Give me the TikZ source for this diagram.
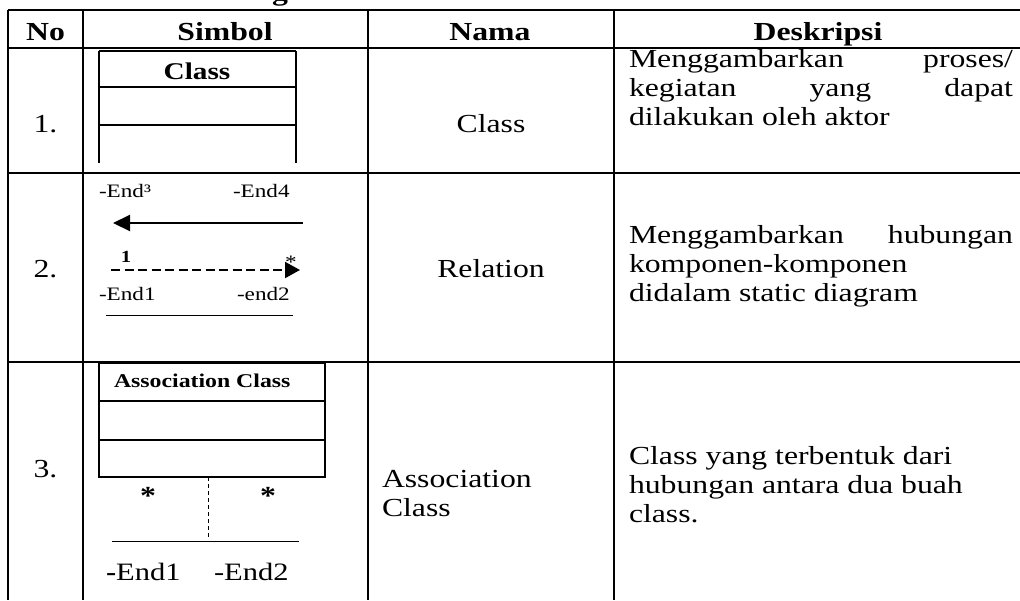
\documentclass[tikz,border=0pt]{standalone}
\usepackage{fontspec}
\setmainfont{Liberation Serif}[FakeStretch=1.22]
\usetikzlibrary{arrows.meta}

\begin{document}
\begin{tikzpicture}[x = 1pt, y = -1pt, line width = 2pt,
                      txt/.style = {inner sep = 0pt, anchor = base, font = \fontsize{26}{29}\selectfont},
                      hd/.style = {txt, font = \fontsize{26}{29}\selectfont\bfseries},
                      lft/.style = {txt, anchor = base west},
                      just/.style = {lft, text width = 384pt},
                      small/.style = {inner sep = 0pt, anchor = base west, font = \fontsize{19}{21}\selectfont},
                      thin/.style = {line width = 1pt}]
    \useasboundingbox (0, 0) rectangle (1020, 600);

    \draw (8, 10) -- (1020, 10);
    \draw (8, 48) -- (1020, 48);
    \draw (8, 173) -- (1020, 173);
    \draw (8, 362) -- (1020, 362);
    \foreach \x in {8, 83, 368, 614}
        \draw (\x, 10) -- (\x, 600);

    \node [hd] (t1) at (280, 0) {g};

    \node [hd] (h1) at (45.5, 40) {No};
    \node [hd] (h2) at (225, 40) {Simbol};
    \node [hd] (h3) at (490, 40) {Nama};
    \node [hd] (h4) at (818, 40) {Deskripsi};

    \node [txt] (n1) at (45.5, 132) {1.};
    \node [txt] (n2) at (45.5, 277) {2.};
    \node [txt] (n3) at (45.5, 477) {3.};

    \node [txt] (m1) at (491, 132) {Class};
    \node [txt] (m2) at (491, 277) {Relation};
    \node [lft] (m3) at (381, 487) {Association};
    \node [lft] (m4) at (381, 516) {Class};

    \node [just] (d1) at (628, 67) {Menggambarkan\hfill proses/};
    \node [just] (d2) at (628, 96) {kegiatan\hfill yang\hfill dapat};
    \node [lft] (d3) at (628, 125) {dilakukan oleh aktor};
    \node [just] (d4) at (628, 243) {Menggambarkan\hfill hubungan};
    \node [lft] (d5) at (628, 272) {komponen-komponen};
    \node [lft] (d6) at (628, 301) {didalam static diagram};
    \node [lft] (d7) at (628, 464) {Class yang terbentuk dari};
    \node [lft] (d8) at (628, 493) {hubungan antara dua buah};
    \node [lft] (d9) at (628, 522) {class.};

    \draw (99, 51) -- (296, 51);
    \draw (99, 87) -- (296, 87);
    \draw (99, 125) -- (296, 125);
    \draw (99, 51) -- (99, 163);
    \draw (296, 51) -- (296, 163);
    \node [hd, font = \fontsize{24}{28}\selectfont\bfseries] (c1) at (197, 79) {Class};

    \node [small] (e3) at (98, 197) {-End³};
    \node [small] (e4) at (232, 197) {-End4};
    \coordinate (s1) at (303, 223);
    \coordinate (s2) at (113, 223);
    \draw [-{Triangle[length = 17pt, width = 16pt]}] (s1) -- (s2);
    \node [small, anchor = base, font = \fontsize{17}{19}\selectfont\bfseries] (k1) at (126, 262) {1};
    \node [small, anchor = base] (k2) at (291, 268) {*};
    \coordinate (r1) at (111, 270);
    \coordinate (r2) at (300, 270);
    \draw [dash pattern = on 9pt off 4.5pt, -{Triangle[length = 15pt, width = 16pt]}] (r1) -- (r2);
    \node [small] (e1) at (98, 300) {-End1};
    \node [small] (e2) at (236, 300) {-end2};
    \draw [thin] (106, 315) -- (293, 315);

    \draw (99, 363) rectangle (325, 477);
    \draw (99, 401) -- (325, 401);
    \draw (99, 440) -- (325, 440);
    \node [small, font = \fontsize{19.5}{21}\selectfont\bfseries] (c2) at (113, 387) {Association Class};
    \coordinate (v1) at (208, 477);
    \coordinate (v2) at (208, 538);
    \draw [thin, dash pattern = on 4pt off 3pt] (v1) -- (v2);
    \node [hd] (a1) at (148, 504) {*};
    \node [hd] (a2) at (268, 504) {*};
    \draw [thin] (112, 541) -- (299, 541);
    \node [lft, font = \fontsize{25}{28}\selectfont] (e5) at (105, 580) {\textbf{-}End1};
    \node [lft, font = \fontsize{25}{28}\selectfont] (e6) at (213, 580) {-End2};
\end{tikzpicture}
\end{document}
